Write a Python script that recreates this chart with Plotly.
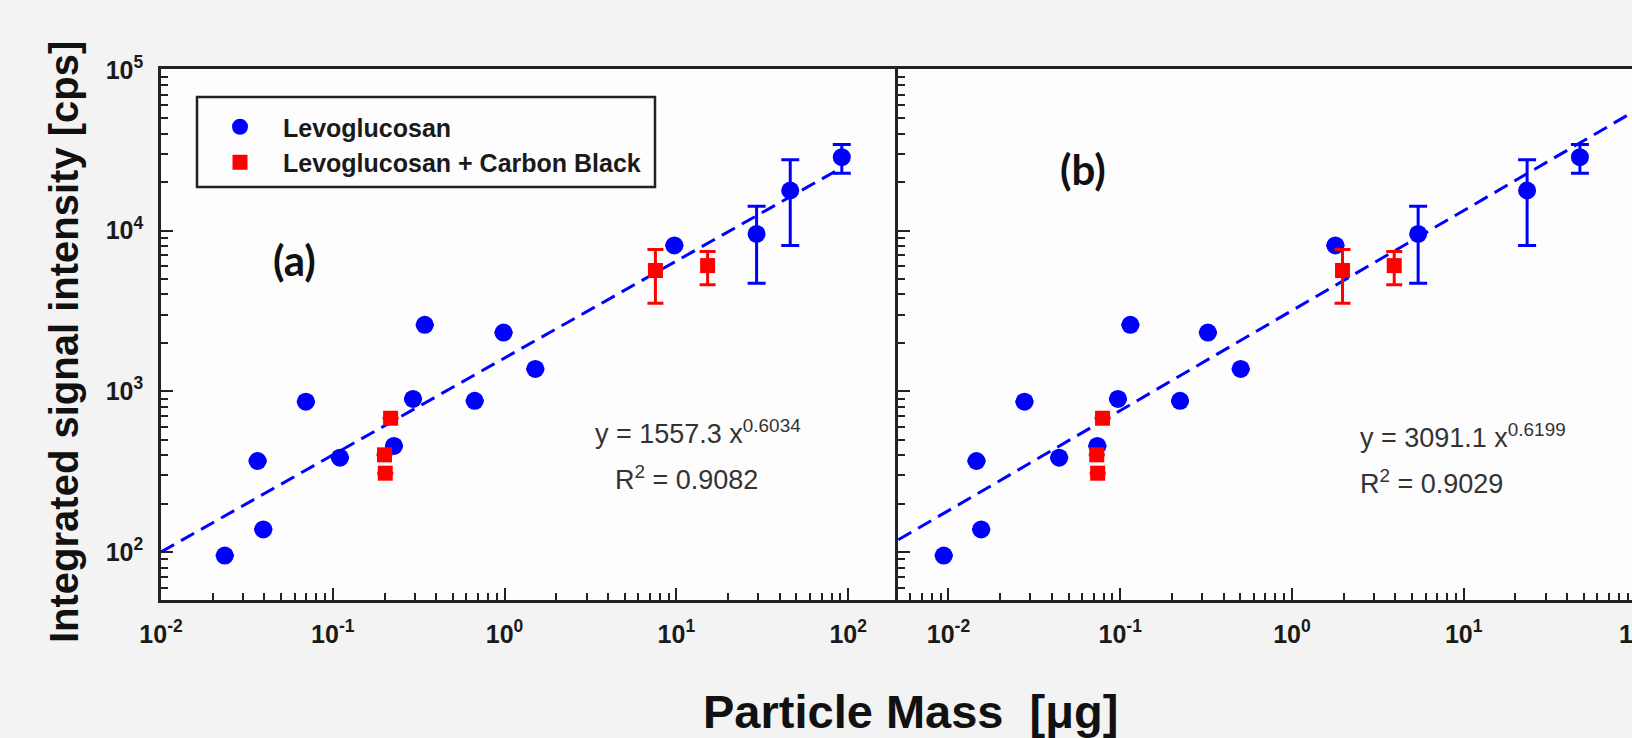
import plotly.graph_objects as go

# ---------------- data ----------------
# Levoglucosan (blue circles) - shared y values
lev_y = [95, 368, 138, 861, 386, 457, 895, 2588, 871, 2317, 1377, 8070, 9530, 17740, 28580]
lev_x_a = [0.0235, 0.0365, 0.0394, 0.0697, 0.110, 0.227, 0.293, 0.343, 0.670, 0.986, 1.51, 9.73, 29.3, 46.0, 91.8]
lev_x_b = [0.00938, 0.01455, 0.0155, 0.0277, 0.0441, 0.0736, 0.0970, 0.1146, 0.223, 0.324, 0.503, 1.79, 5.43, 23.4, 47.5]
lev_hi = [None] * 12 + [14160, 27560, 34260]
lev_lo = [None] * 12 + [4700, 8070, 22740]

# Levoglucosan + Carbon Black (red squares)
cb_y = [402, 309, 679, 5640, 6050]
cb_x_a = [0.200, 0.202, 0.217, 7.55, 15.2]
cb_x_b = [0.0730, 0.0739, 0.0789, 1.97, 3.94]
cb_hi = [None, None, None, 7620, 7400]
cb_lo = [None, None, None, 3530, 4590]

# power-law fit lines (end points)
fit_a_x = [0.01, 88]
fit_a_y = [100, 24000]
fit_b_x = [0.0051, 95]
fit_b_y = [119, 54000]

eq_a = ["y = 1557.3 x<sup>0.6034</sup>", "R<sup>2</sup> = 0.9082"]
eq_b = ["y = 3091.1 x<sup>0.6199</sup>", "R<sup>2</sup> = 0.9029"]

x_tickvals = [0.01, 0.1, 1, 10, 100]
x_ticktext = ["10<sup>-2</sup>", "10<sup>-1</sup>", "10<sup>0</sup>", "10<sup>1</sup>", "10<sup>2</sup>"]
y_tickvals = [100, 1000, 10000, 100000]
y_ticktext = ["10<sup>2</sup>", "10<sup>3</sup>", "10<sup>4</sup>", "10<sup>5</sup>"]

BLUE = "#0000ff"
RED = "#ff0000"
AXC = "#222222"

# ---------------- layout helpers ----------------
W, H = 1632, 738
L, R, T, B = 161, 1632, 69, 600
PW, PH = R - L, B - T


def px(x):
    return (x - L) / PW


def py(y):
    return (B - y) / PH


def errs(y, hi, lo):
    up = [None if h is None else h - v for v, h in zip(y, hi)]
    dn = [None if l is None else v - l for v, l in zip(y, lo)]
    return up, dn


lev_up, lev_dn = errs(lev_y, lev_hi, lev_lo)
cb_up, cb_dn = errs(cb_y, cb_hi, cb_lo)

fig = go.Figure()

for xa, ya, fx, fy, lx, cx, show in [
    ("x", "y", fit_a_x, fit_a_y, lev_x_a, cb_x_a, True),
    ("x2", "y2", fit_b_x, fit_b_y, lev_x_b, cb_x_b, False),
]:
    fig.add_trace(go.Scatter(x=fx, y=fy, mode="lines", xaxis=xa, yaxis=ya,
                             line=dict(color=BLUE, width=3, dash="15px,8px"),
                             showlegend=False, hoverinfo="skip"))
    fig.add_trace(go.Scatter(x=lx, y=lev_y, mode="markers", xaxis=xa, yaxis=ya,
                             name="Levoglucosan", showlegend=show,
                             marker=dict(symbol="circle", size=18, color=BLUE),
                             error_y=dict(type="data", array=lev_up, arrayminus=lev_dn,
                                          color=BLUE, thickness=3, width=9)))
    fig.add_trace(go.Scatter(x=cx, y=cb_y, mode="markers", xaxis=xa, yaxis=ya,
                             name="Levoglucosan + Carbon Black", showlegend=show,
                             marker=dict(symbol="square", size=15, color=RED),
                             error_y=dict(type="data", array=cb_up, arrayminus=cb_dn,
                                          color=RED, thickness=3, width=8)))


def minor_vals(lo, hi):
    vals = []
    for e in range(lo, hi + 1):
        for k in range(2, 10):
            vals.append(k * 10 ** e)
    return vals


tickfont = dict(family="Liberation Sans, Arial", size=25, color="#1a1a1a", weight="bold")
split = px(898)

common_x = dict(type="log", showgrid=False, zeroline=False, showline=True, linecolor=AXC,
                linewidth=2.5, ticks="inside", ticklen=12, tickwidth=2, tickcolor=AXC,
                tickmode="array", tickvals=x_tickvals, ticktext=x_ticktext,
                tickfont=tickfont, ticklabelstandoff=10, mirror=True,
                minor=dict(ticks="inside", ticklen=7, tickwidth=2, tickcolor=AXC,
                           tickmode="array", tickvals=minor_vals(-3, 2), showgrid=False))
common_y = dict(type="log", showgrid=False, zeroline=False, showline=True, linecolor=AXC,
                linewidth=2.5, ticks="inside", ticklen=12, tickwidth=2, tickcolor=AXC,
                tickmode="array", tickvals=y_tickvals, ticktext=y_ticktext,
                tickfont=tickfont, ticklabelstandoff=10, range=[1.701, 5.005],
                minor=dict(ticks="inside", ticklen=7, tickwidth=2, tickcolor=AXC,
                           tickmode="array", tickvals=minor_vals(1, 4), showgrid=False))

fig.update_layout(
    width=W, height=H,
    margin=dict(l=L, r=W - R, t=T, b=H - B, pad=0),
    paper_bgcolor="#f3f3f3", plot_bgcolor="#fdfdfd",
    xaxis=dict(common_x, domain=[0, split], range=[-2, 2.29], anchor="y"),
    xaxis2=dict(common_x, domain=[split, 1], range=[-2.294, 1.98], anchor="y2"),
    yaxis=dict(common_y, anchor="x", mirror=False),
    yaxis2=dict(common_y, anchor="x2", showticklabels=False, mirror=False),
    legend=dict(x=px(197), y=py(104), xanchor="left", yanchor="top",
                bgcolor="rgba(0,0,0,0)", borderwidth=0, itemwidth=76,
                font=dict(family="Liberation Sans, Arial", size=25, color="#1a1a1a", weight="bold"),
                itemsizing="trace", tracegroupgap=0),
    showlegend=True,
)

# legend frame
fig.add_shape(type="rect", xref="paper", yref="paper",
              x0=px(197), x1=px(655), y0=py(187), y1=py(97),
              line=dict(color=AXC, width=2.5), fillcolor="rgba(0,0,0,0)")

ann = []
ann.append(dict(text="<b>Integrated signal intensity [cps]</b>", x=px(64), y=py(342),
                textangle=-90, font=dict(family="Liberation Sans, Arial", size=40, color="#111")))
ann.append(dict(text="<b>Particle Mass\u00a0\u00a0[\u03bcg]</b>", x=px(910), y=py(711),
                font=dict(family="Liberation Sans, Arial", size=47, color="#111")))
ann.append(dict(text="<b>(a)</b>", x=px(294), y=py(260),
                font=dict(family="Lato, Open Sans", size=42, color="#111")))
ann.append(dict(text="<b>(b)</b>", x=px(1083), y=py(169),
                font=dict(family="Lato, Open Sans", size=42, color="#111")))
eqfont = dict(family="Liberation Sans, Arial", size=27, color="#333")
ann.append(dict(text=eq_a[0], x=px(593), y=py(432), xanchor="left", font=eqfont))
ann.append(dict(text=eq_a[1], x=px(613), y=py(478), xanchor="left", font=eqfont))
ann.append(dict(text=eq_b[0], x=px(1358), y=py(436), xanchor="left", font=eqfont))
ann.append(dict(text=eq_b[1], x=px(1358), y=py(482), xanchor="left", font=eqfont))
# cut-off 10^2 label at the right edge of panel (b)
ann.append(dict(text=x_ticktext[-1], x=px(1638), y=py(632), xanchor="center",
                font=tickfont))

for a in ann:
    a.setdefault("xanchor", "center")
    a.setdefault("yanchor", "middle")
    fig.add_annotation(dict(a, xref="paper", yref="paper", showarrow=False))

fig.write_html("out.html", config={"displayModeBar": False},
               post_script="document.body.style.margin='0';")
